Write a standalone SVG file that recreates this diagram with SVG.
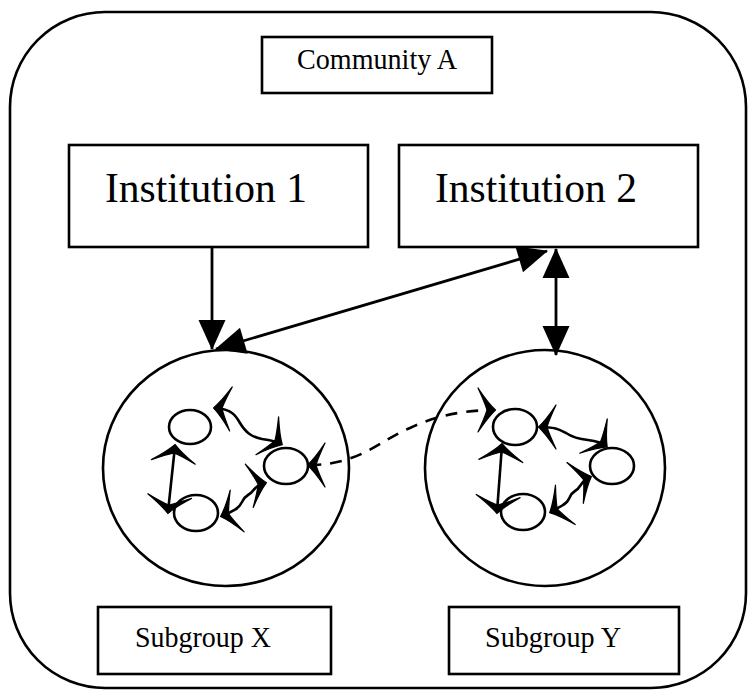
<svg xmlns="http://www.w3.org/2000/svg" width="749" height="690" viewBox="0 0 749 690">
<style>
  .box { fill: #fff; stroke: #000; stroke-width: 2.6; }
  .ring { fill: none; stroke: #000; stroke-width: 2.6; }
  .node { fill: #fff; stroke: #000; stroke-width: 2.6; }
  .lbl { font-family: "Liberation Serif", "Times New Roman", serif; fill: #000; }
  .big { font-size: 43px; }
  .small { font-size: 30px; }
  .link { fill: none; stroke: #000; stroke-width: 2.8; }
  .main { marker-start: url(#tri); marker-end: url(#tri); }
  .one { marker-end: url(#tri); }
  .wav { fill: none; stroke: #000; stroke-width: 2.6; marker-start: url(#barb); marker-end: url(#barb); }
  .dash { stroke-dasharray: 12 9; }
</style>
<defs>
  <marker id="tri" markerUnits="userSpaceOnUse" markerWidth="40" markerHeight="40" refX="0" refY="0" orient="auto-start-reverse" overflow="visible">
    <path d="M1,0 L-29,-13.5 L-29,13.5 Z" fill="#000"/>
  </marker>
  <marker id="barb" markerUnits="userSpaceOnUse" markerWidth="40" markerHeight="40" refX="0" refY="0" orient="auto-start-reverse" overflow="visible">
    <path d="M1.5,0 Q-6,-7 -16,-22 Q-9,-7 -7,0 Q-9,7 -16,22 Q-6,7 1.5,0 Z" fill="#000" stroke="#000" stroke-width="1.2" stroke-linejoin="round"/>
  </marker>
</defs>

<g id="community-a">
  <rect class="ring" x="10" y="12" width="736" height="676" rx="95" ry="95"/>
  <rect class="box" x="262" y="37" width="230" height="56"/>
  <text class="lbl small" x="297" y="69" textLength="160" lengthAdjust="spacingAndGlyphs">Community A</text>
</g>

<g id="institution-1">
  <rect class="box" x="69" y="145" width="299" height="102"/>
  <text class="lbl big" x="105" y="202" textLength="202" lengthAdjust="spacingAndGlyphs">Institution 1</text>
</g>

<g id="institution-2">
  <rect class="box" x="399" y="145" width="299" height="102"/>
  <text class="lbl big" x="435" y="202" textLength="202" lengthAdjust="spacingAndGlyphs">Institution 2</text>
</g>

<g id="subgroup-x">
  <ellipse class="ring" cx="226" cy="468" rx="123" ry="118"/>
  <ellipse class="node" cx="190" cy="427" rx="21" ry="17"/>
  <ellipse class="node" cx="286" cy="466" rx="22" ry="18"/>
  <ellipse class="node" cx="196" cy="513" rx="22" ry="18"/>
</g>

<g id="subgroup-y">
  <ellipse class="ring" cx="545" cy="468" rx="120" ry="118"/>
  <ellipse class="node" cx="515" cy="427" rx="22" ry="18"/>
  <ellipse class="node" cx="612" cy="466" rx="22" ry="18"/>
  <ellipse class="node" cx="523" cy="512" rx="22" ry="18"/>
</g>

<g id="label-x">
  <rect class="box" x="98" y="607" width="233" height="67"/>
  <text class="lbl small" x="135" y="647" textLength="136" lengthAdjust="spacingAndGlyphs">Subgroup X</text>
</g>

<g id="label-y">
  <rect class="box" x="449" y="607" width="230" height="67"/>
  <text class="lbl small" x="485" y="647" textLength="136" lengthAdjust="spacingAndGlyphs">Subgroup Y</text>
</g>

<g id="connectors">
  <line class="link one" x1="212" y1="247" x2="212" y2="349"/>
  <line class="link main" x1="216" y1="349" x2="547" y2="251"/>
  <line class="link main" x1="556" y1="249" x2="556" y2="355"/>

  <path class="wav" d="M175,446 L168,512"/>
  <path class="wav" d="M215,408 C232,409 236,416 240,423 C246,433 252,437 262,439 C270,440 276,441 281,444"/>
  <path class="wav" d="M265,483 C254,485 255,491 248,495 C241,499 243,505 236,509 C231,512 228,514 222,516"/>

  <path class="wav" d="M502,445 L497,512"/>
  <path class="wav" d="M540,427 C556,427 560,430 566,433 C572,437 578,439 588,440 C596,441 601,442 606,446"/>
  <path class="wav" d="M590,477 C580,481 582,487 575,491 C568,495 571,501 563,505 C558,508 555,510 551,512"/>

  <path class="wav dash" d="M309,465 C360,465 380,440 410,428 C430,418 460,410 494,410"/>
</g>
</svg>
